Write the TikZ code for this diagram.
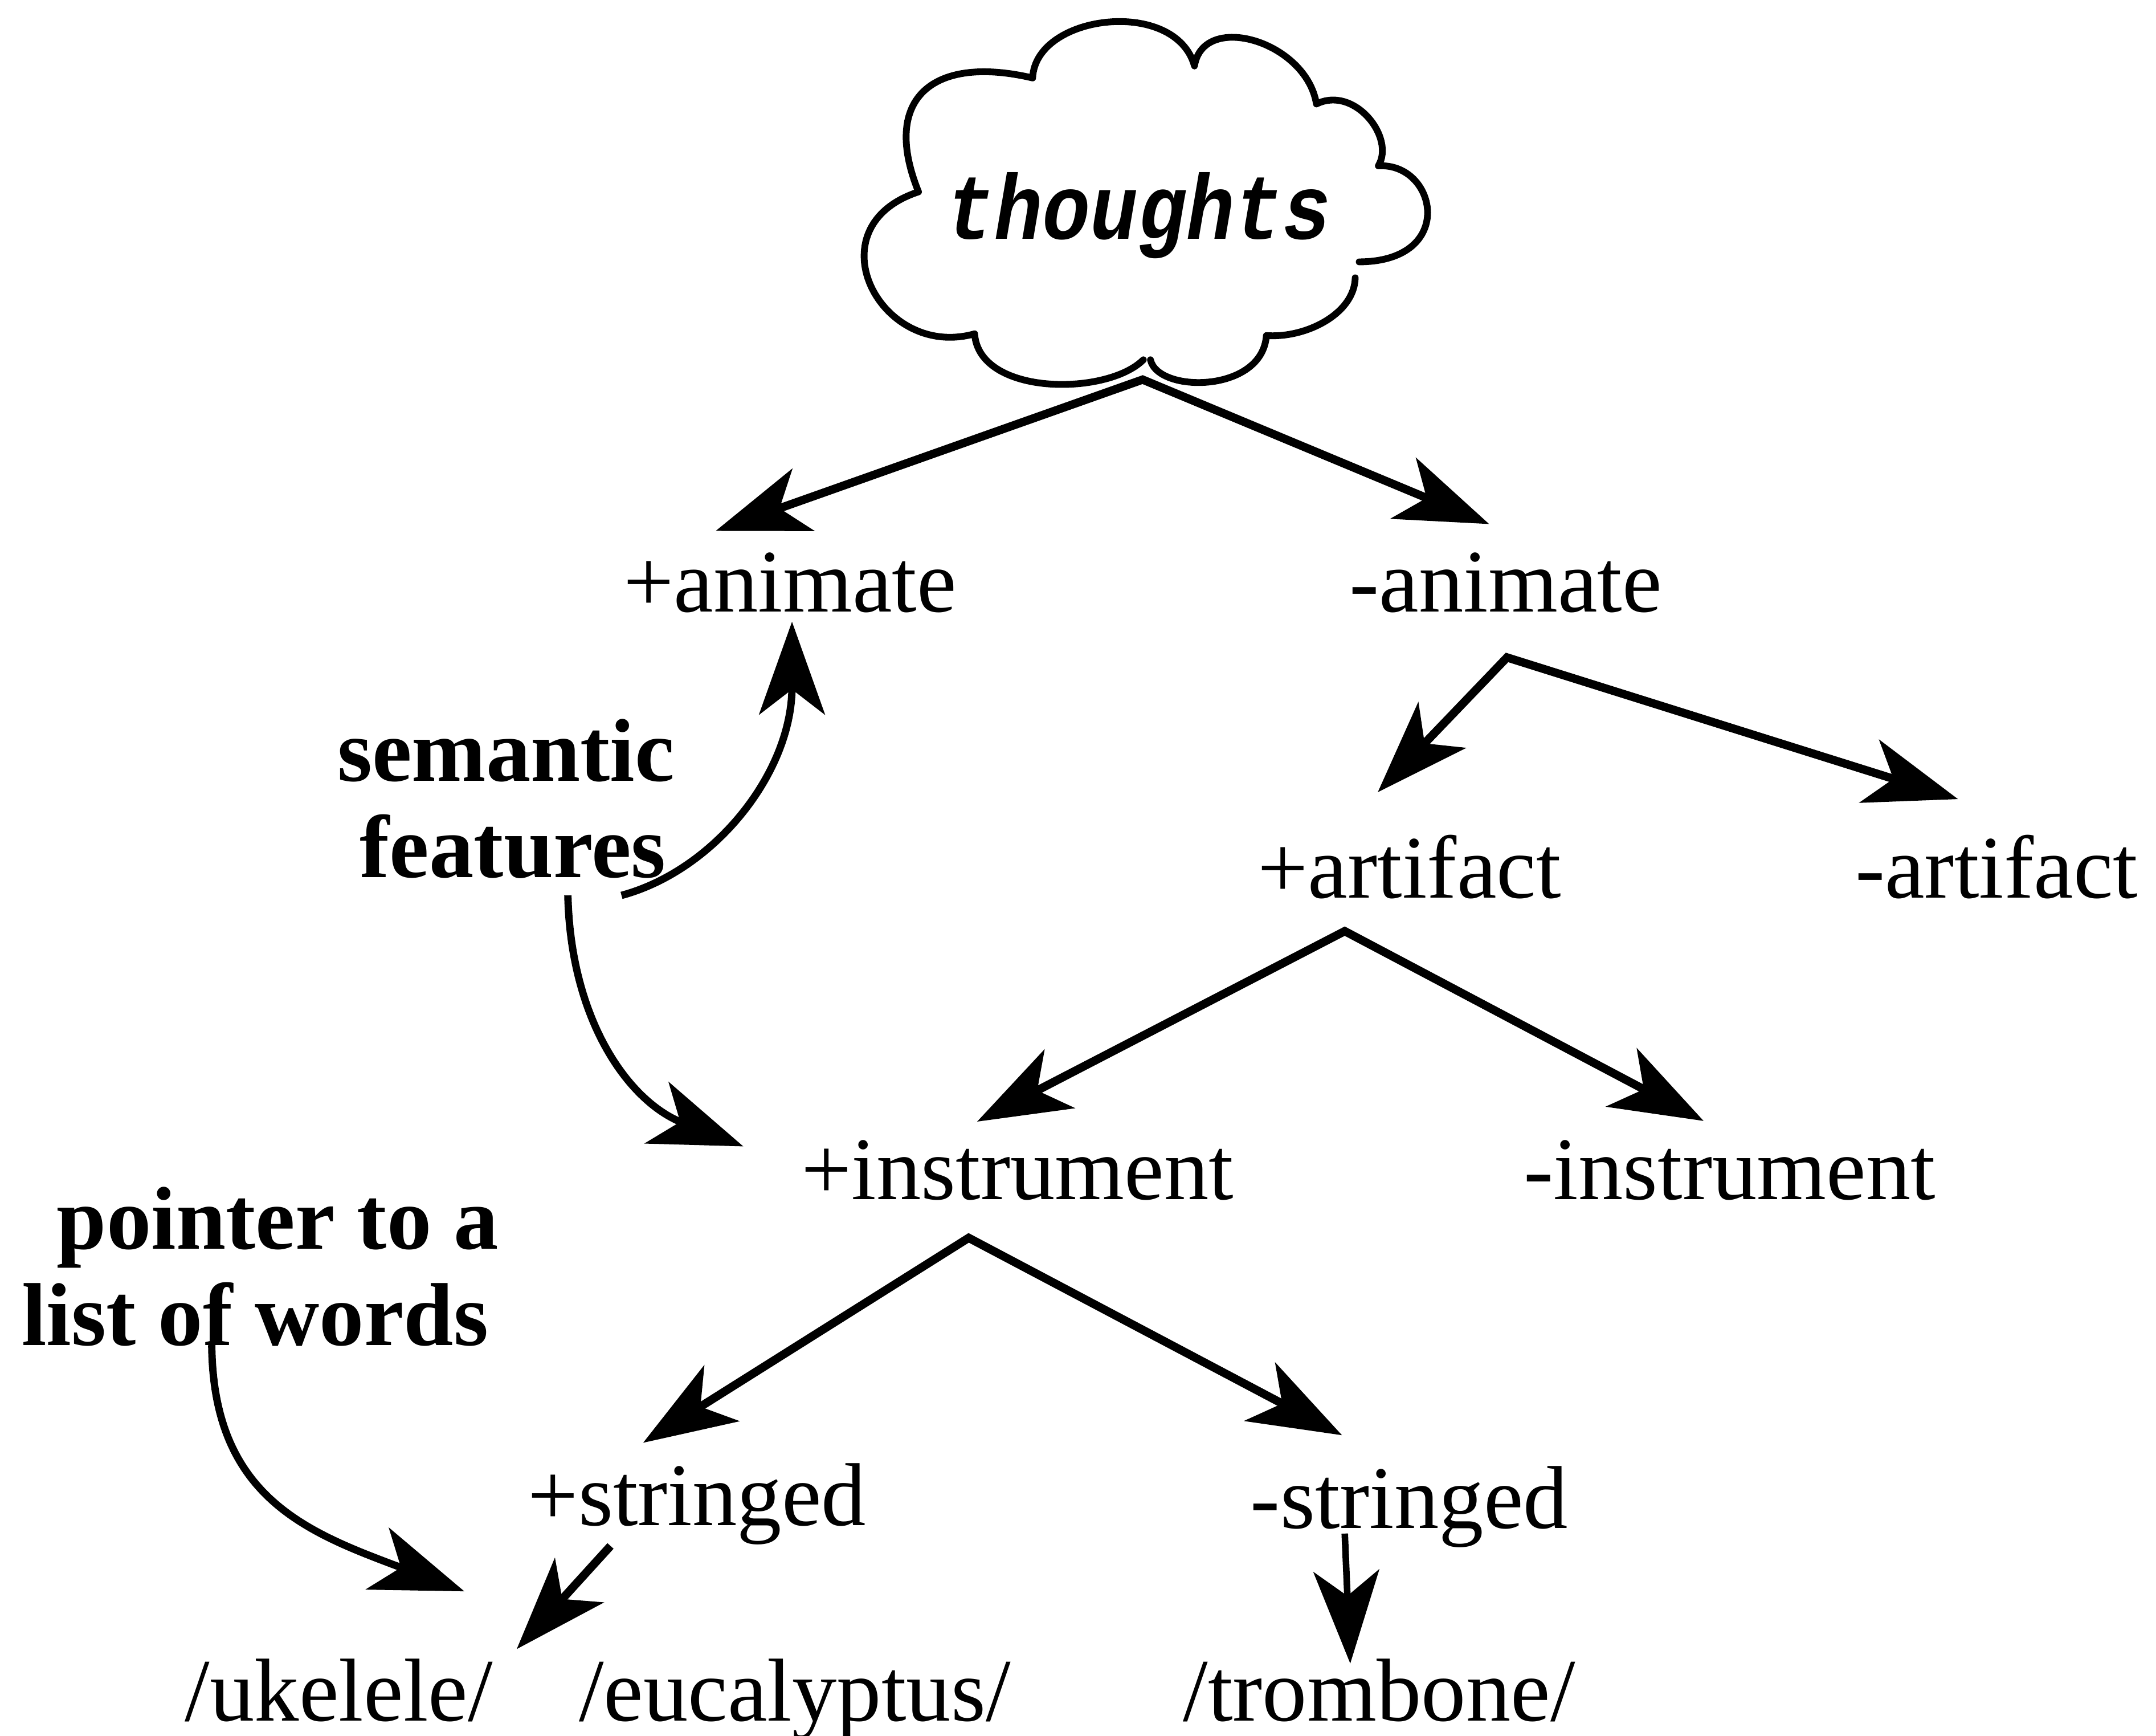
\documentclass[tikz,border=0pt]{standalone}
\usepackage{fontspec}
\setmainfont{Liberation Serif}
\newfontfamily\cloudfont{Liberation Mono}[FakeStretch=0.87]
\usetikzlibrary{arrows.meta}

\begin{document}
\begin{tikzpicture}[x=0.025cm,y=-0.025cm,
  lbl/.style={inner sep=0pt, anchor=base, font=\fontsize{46.2}{55}\selectfont},
  blbl/.style={inner sep=0pt, anchor=base, font=\fontsize{46.2}{55}\selectfont\bfseries},
  headtip/.tip={Stealth[length=48pt,width=34pt,inset=13pt]},
  link/.style={line width=4.3pt},
  curvelink/.style={line width=3.8pt},
  cloudline/.style={line width=3.5pt, line cap=round, line join=round}]

\useasboundingbox (0,0) rectangle (1568,1262);

% ---- thought cloud ----
\node[inner sep=0pt, anchor=base, font=\fontsize{47.6}{56}\selectfont\cloudfont\bfseries\itshape] (thoughts) at (828,174) {thoughts};
\draw[cloudline] (985.6,202) .. controls (985,228) and (950,246) .. (921,244)
  .. controls (918,286) and (842,286) .. (836.7,261.6);
\draw[cloudline] (831.5,261.6) .. controls (805,288) and (712,288) .. (708.8,242.7)
  .. controls (640,262) and (590,165) .. (668,139.5)
  .. controls (640,70) and (680,40) .. (751,56.7)
  .. controls (753,10) and (855,-2) .. (868.7,48)
  .. controls (875,8) and (950,30) .. (957.4,75.6)
  .. controls (985,62) and (1015,100) .. (1002.4,120.6)
  .. controls (1045,118) and (1060,190) .. (988.5,190.4);

% ---- feature labels ----
\node[lbl] (pan) at (574.5,445) {+animate};
\node[lbl] (man) at (1095,445) {-animate};
\node[lbl] (par) at (1025,653) {+artifact};
\node[lbl] (mar) at (1452,653) {-artifact};
\node[lbl] (pin) at (740,872) {+instrument};
\node[lbl] (min) at (1258,872) {-instrument};
\node[lbl] (pst) at (507,1109) {+stringed};
\node[lbl] (mst) at (1025,1111) {-stringed};
\node[lbl] (uke) at (246.5,1251) {/ukelele/};
\node[lbl] (euc) at (578,1251) {/eucalyptus/};
\node[lbl] (tro) at (1003,1251) {/trombone/};

% ---- annotations ----
\node[blbl] (sem) at (368,568) {semantic};
\node[blbl] (fea) at (373,638) {features};
\node[blbl] (ptr) at (202,908) {pointer to a};
\node[blbl] (lst) at (185.5,978) {list of words};

% ---- branch points and arrow ends ----
\coordinate (thoughtsfork) at (831,276);
\coordinate (panend) at (520.5,386);
\coordinate (manend) at (1083,381);
\coordinate (manfork) at (1096,478);
\coordinate (parend) at (1002,576);
\coordinate (marend) at (1424,581);
\coordinate (parfork) at (978,677);
\coordinate (pinend) at (710.6,815.5);
\coordinate (minend) at (1239,815);
\coordinate (pinfork) at (704.5,900);
\coordinate (pstend) at (467.7,1049);
\coordinate (mstend) at (976,1043.5);
\coordinate (pstfoot) at (444,1124);
\coordinate (ukeend) at (375.8,1199);
\coordinate (mstfoot) at (978,1115);
\coordinate (troend) at (982,1209.5);
\coordinate (semfoot) at (452,651);
\coordinate (semend) at (576,452);
\coordinate (feafoot) at (413,651);
\coordinate (feaend) at (540.6,833.5);
\coordinate (lstfoot) at (154,978);
\coordinate (lstend) at (337.7,1157);

% ---- tree branches ----
\draw[link, headtip-headtip] (panend) -- (thoughtsfork) -- (manend);
\draw[link, headtip-headtip] (parend) -- (manfork) -- (marend);
\draw[link, headtip-headtip] (pinend) -- (parfork) -- (minend);
\draw[link, headtip-headtip] (pstend) -- (pinfork) -- (mstend);
\draw[link, -headtip] (pstfoot) -- (ukeend);
\draw[line width=3.4pt, -headtip] (mstfoot) -- (troend);

% ---- annotation pointers ----
\draw[curvelink, -headtip] (semfoot) .. controls (519.6,632.8) and (576,562) .. (semend);
\draw[curvelink, -headtip] (feafoot) .. controls (415,741) and (456.7,800.9) .. (feaend);
\draw[curvelink, -headtip] (lstfoot) .. controls (155,1090) and (225.4,1114.8) .. (lstend);
\end{tikzpicture}
\end{document}
